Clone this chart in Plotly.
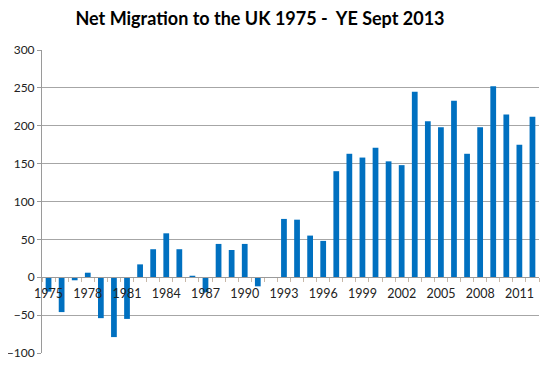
import plotly.graph_objects as go

years = list(range(1975, 2013))
net_migration = [-19, -46, -4, 6, -54, -79, -55, 17, 37, 58, 37, 2, -20, 44, 36, 44, -12, 0,
                 77, 76, 55, 48, 140, 163, 158, 171, 153, 148, 245, 206, 198, 233, 163, 198,
                 252, 215, 175, 212]
label_years = list(range(1975, 2013, 3))
title_text = "Net Migration to the UK 1975 -\u00a0 YE Sept 2013"

fig = go.Figure()
fig.add_trace(go.Bar(x=years, y=net_migration, marker_color="#0070C0",
                     marker_line_width=0, width=0.44))

y_min, y_max = -100, 300
zero_pos = (0 - y_min) / (y_max - y_min)

# page body has an 8px margin, so the figure is drawn 8px in from the top-left
W, H = 550, 358
fig.update_layout(
    width=W, height=H,
    margin=dict(l=34, r=19, t=42, b=13),
    paper_bgcolor="white", plot_bgcolor="white",
    showlegend=False,
    font=dict(family="Lato, 'Open Sans', sans-serif", size=12, color="#222222"),
    title=dict(text="<b>" + title_text + "</b>", x=252 / W, xref="container",
               xanchor="center", y=1 - 11 / H, yref="container", yanchor="middle",
               font=dict(family="Lato, 'Open Sans', sans-serif", size=18, color="#000000")),
    xaxis=dict(range=[1974.5, 2012.5], tickvals=label_years,
               ticktext=[str(y) for y in label_years],
               anchor="free", position=zero_pos, automargin=False,
               showline=True, linecolor="#9a9a9a", linewidth=1,
               showgrid=False, zeroline=False, ticks="outside", ticklen=5,
               tickcolor="rgba(0,0,0,0)",
               minor=dict(tick0=1974.5, dtick=1, ticks="outside", ticklen=4,
                          tickcolor="#c8b8a8", showgrid=False),
               tickfont=dict(size=12.5, color="#222222")),
    yaxis=dict(range=[y_min, y_max], dtick=50, tick0=0, automargin=False,
               showline=True, linecolor="#9a9a9a", linewidth=1,
               showgrid=True, gridcolor="#a6a6a6", gridwidth=1,
               zeroline=False, ticks="outside", ticklen=4, tickcolor="#9a9a9a",
               tickfont=dict(size=12, color="#222222")),
)

fig.write_html("out.html")
